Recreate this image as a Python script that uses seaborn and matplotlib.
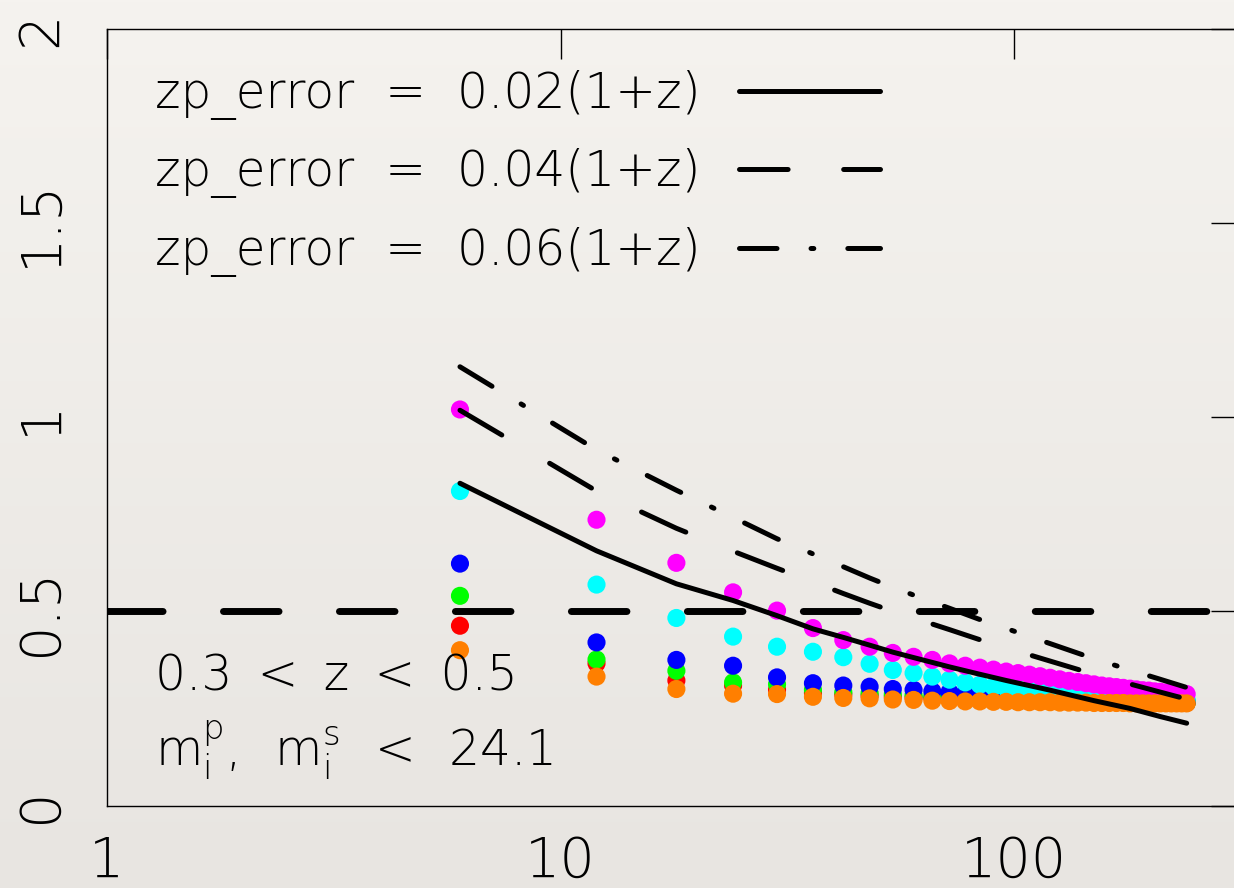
import numpy as np
import pandas as pd
import matplotlib
matplotlib.use("Agg")
import matplotlib.pyplot as plt
from matplotlib.colors import LinearSegmentedColormap
from matplotlib.ticker import NullLocator
import seaborn as sns

# ---- data ---------------------------------------------------------------
x_points = [6, 12, 18, 24, 30, 36, 42, 48, 54, 60, 66, 72, 78, 84, 90, 96,
            102, 108, 114, 120, 126, 132, 138, 144, 150, 156, 162, 168, 174,
            180, 186, 192, 198, 204, 210, 216, 222, 228, 234, 240]

magenta_vals = [1.02, 0.736, 0.625, 0.549, 0.502, 0.457, 0.426, 0.409, 0.393, 0.383,
                0.375, 0.366, 0.360, 0.355, 0.350, 0.345, 0.341, 0.337, 0.333, 0.329,
                0.325, 0.321, 0.318, 0.315, 0.312, 0.309, 0.307, 0.305, 0.303, 0.301,
                0.299, 0.297, 0.296, 0.294, 0.293, 0.291, 0.290, 0.289, 0.288, 0.287]
cyan_vals = [0.81, 0.569, 0.483, 0.435, 0.409, 0.396, 0.382, 0.365, 0.349, 0.341,
             0.332, 0.324, 0.317, 0.311, 0.306, 0.302, 0.299, 0.296, 0.293, 0.291,
             0.289, 0.287, 0.286, 0.284, 0.283, 0.282, 0.281, 0.280, 0.279, 0.278,
             0.277, 0.276, 0.276, 0.275, 0.274, 0.274, 0.273, 0.273, 0.272, 0.272]
blue_vals = [0.623, 0.42, 0.375, 0.36, 0.33, 0.315, 0.309, 0.306, 0.300, 0.298,
             0.294, 0.292, 0.290, 0.288, 0.287, 0.285, 0.284, 0.283, 0.282, 0.281,
             0.280, 0.279, 0.278, 0.277, 0.277, 0.276, 0.275, 0.275, 0.274, 0.273,
             0.273, 0.272, 0.272, 0.271, 0.271, 0.270, 0.270, 0.269, 0.269, 0.268]
green_vals = [0.54, 0.376, 0.347, 0.317, 0.312, 0.298, 0.292, 0.289, 0.286, 0.284,
              0.282, 0.280, 0.279, 0.278, 0.277, 0.276, 0.275, 0.274, 0.274, 0.273,
              0.272, 0.272, 0.271, 0.271, 0.270, 0.270, 0.269, 0.269, 0.268, 0.268,
              0.268, 0.267, 0.267, 0.267, 0.266, 0.266, 0.266, 0.266, 0.265, 0.265]
red_vals = [0.463, 0.366, 0.322, 0.309, 0.298, 0.290, 0.286, 0.283, 0.280, 0.278,
            0.277, 0.275, 0.274, 0.273, 0.272, 0.272, 0.271, 0.270, 0.270, 0.269,
            0.269, 0.268, 0.268, 0.268, 0.267, 0.267, 0.267, 0.266, 0.266, 0.266,
            0.266, 0.265, 0.265, 0.265, 0.265, 0.264, 0.264, 0.264, 0.264, 0.264]
orange_vals = [0.40, 0.332, 0.30, 0.288, 0.287, 0.280, 0.277, 0.276, 0.273, 0.272,
               0.270, 0.269, 0.268, 0.268, 0.267, 0.267, 0.266, 0.266, 0.266, 0.266,
               0.265, 0.265, 0.265, 0.265, 0.264, 0.264, 0.264, 0.264, 0.264, 0.263,
               0.263, 0.263, 0.263, 0.263, 0.263, 0.263, 0.263, 0.263, 0.263, 0.263]

series_order = ["red", "green", "blue", "cyan", "magenta", "orange"]
series_values = {"red": red_vals, "green": green_vals, "blue": blue_vals,
                 "cyan": cyan_vals, "magenta": magenta_vals, "orange": orange_vals}
series_colors = {"red": "#ff0000", "green": "#00ff00", "blue": "#0000ff",
                 "cyan": "#00ffff", "magenta": "#ff00ff", "orange": "#ff7f00"}

line_x = [6, 12, 18, 24, 30, 36, 42, 48, 54, 60, 72, 84, 96, 120, 150, 180, 210, 240]
err_002 = [0.83, 0.656, 0.571, 0.528, 0.489, 0.455, 0.433, 0.413, 0.395, 0.381,
           0.357, 0.338, 0.322, 0.297, 0.270, 0.250, 0.229, 0.212]
err_004 = [1.018, 0.81, 0.714, 0.655, 0.611, 0.576, 0.546, 0.521, 0.500, 0.483,
           0.453, 0.427, 0.406, 0.372, 0.338, 0.313, 0.292, 0.274]
err_006 = [1.13, 0.916, 0.812, 0.742, 0.687, 0.648, 0.615, 0.586, 0.562, 0.542,
           0.508, 0.479, 0.456, 0.417, 0.378, 0.349, 0.325, 0.304]
legend_labels = ["zp_error  =  0.02(1+z)", "zp_error  =  0.04(1+z)",
                 "zp_error  =  0.06(1+z)"]
threshold = 0.5

x_ticks = [1, 10, 100]
x_tick_labels = ["1", "10", "100"]
y_ticks = [0, 0.5, 1, 1.5, 2]
y_tick_labels = ["0", "0.5", "1", "1.5", "2"]
note_lines = ["0.3 \u2009<\u2009 z \u2009<\u2009 0.5",
              r"$\mathregular{m_i^p,\ \,m_i^s\ \,<\ \,24.1}$"]

# ---- style --------------------------------------------------------------
sns.set_theme(style="white")
plt.rcParams["font.family"] = ["DejaVu Sans"]
plt.rcParams["font.weight"] = 200
plt.rcParams["lines.scale_dashes"] = False
plt.rcParams["mathtext.default"] = "regular"

W, H = 1234, 888
fig = plt.figure(figsize=(W / 100, H / 100), dpi=100)

# paper-like backdrop
bg = fig.add_axes([0, 0, 1, 1], zorder=-10)
paper = LinearSegmentedColormap.from_list("paper", ["#e8e5e1", "#f5f3ef"])
bg.imshow(np.linspace(0, 1, 256).reshape(-1, 1)[::-1], aspect="auto", cmap=paper,
          extent=[0, 1, 0, 1])
bg.set_axis_off()

ax_left, ax_right, ax_top, ax_bottom = 107, 1241, 29, 805.5
ax = fig.add_axes([ax_left / W, (H - ax_bottom) / H,
                   (ax_right - ax_left) / W, (ax_bottom - ax_top) / H])
ax.patch.set_alpha(0)

# ---- points -------------------------------------------------------------
rows = []
for name in series_order:
    for xv, yv in zip(x_points, series_values[name]):
        rows.append({"x": xv, "y": yv, "series": name})
pts = pd.DataFrame(rows)
sns.scatterplot(data=pts, x="x", y="y", hue="series", hue_order=series_order,
                palette=series_colors, s=170, linewidth=0, legend=False,
                ax=ax, zorder=2)

ax.axhline(threshold, color="black", lw=5, linestyle=(0, (40, 43.5)),
           dash_capstyle="round", zorder=2.5)

# ---- zp_error curves ----------------------------------------------------
styles = ["-", (0, (35, 40)), (0, (27, 24.5, 2, 24.5))]
handles = []
for vals, lab, ls in zip([err_002, err_004, err_006], legend_labels, styles):
    sns.lineplot(x=line_x, y=vals, ax=ax, color="black", lw=3.6, linestyle=ls,
                 dash_capstyle="round", solid_capstyle="round", label=lab,
                 zorder=3, legend=False)
    handles.append(ax.get_lines()[-1])

ax.set_xscale("log")
ax.set_xlim(1, 10 ** 2.5)
ax.set_ylim(0, 2)
ax.set_xticks(x_ticks, labels=x_tick_labels)
ax.set_yticks(y_ticks, labels=y_tick_labels)
ax.xaxis.set_minor_locator(NullLocator())
ax.set_xlabel("")
ax.set_ylabel("")
ax.tick_params(direction="in", length=21.6, width=1.0, color="black",
               top=True, right=True, labelsize=40, labelcolor="black")
ax.tick_params(axis="x", pad=21)
ax.tick_params(axis="y", pad=28, labelrotation=90)
for lbl in ax.get_yticklabels():
    lbl.set_va("center")
for sp in ax.spines.values():
    sp.set_visible(True)
    sp.set_color("black")
    sp.set_linewidth(1.0)

leg = ax.legend(handles=handles, labels=legend_labels, loc="upper left",
                bbox_to_anchor=(0.0423, 0.947), frameon=False, markerfirst=False,
                fontsize=35, handlelength=2.9, handletextpad=0.8,
                labelspacing=0.58, borderpad=0, borderaxespad=0)
for t in leg.get_texts():
    t.set_color("black")

ax.text(0.0423, 0.1487, note_lines[0], transform=ax.transAxes, fontsize=35,
        va="baseline", ha="left", color="black")
ax.text(0.0423, 0.05, note_lines[1], transform=ax.transAxes, fontsize=35,
        va="baseline", ha="left", color="black")

fig.savefig("out.png", dpi=100, facecolor="#eeebe6")
